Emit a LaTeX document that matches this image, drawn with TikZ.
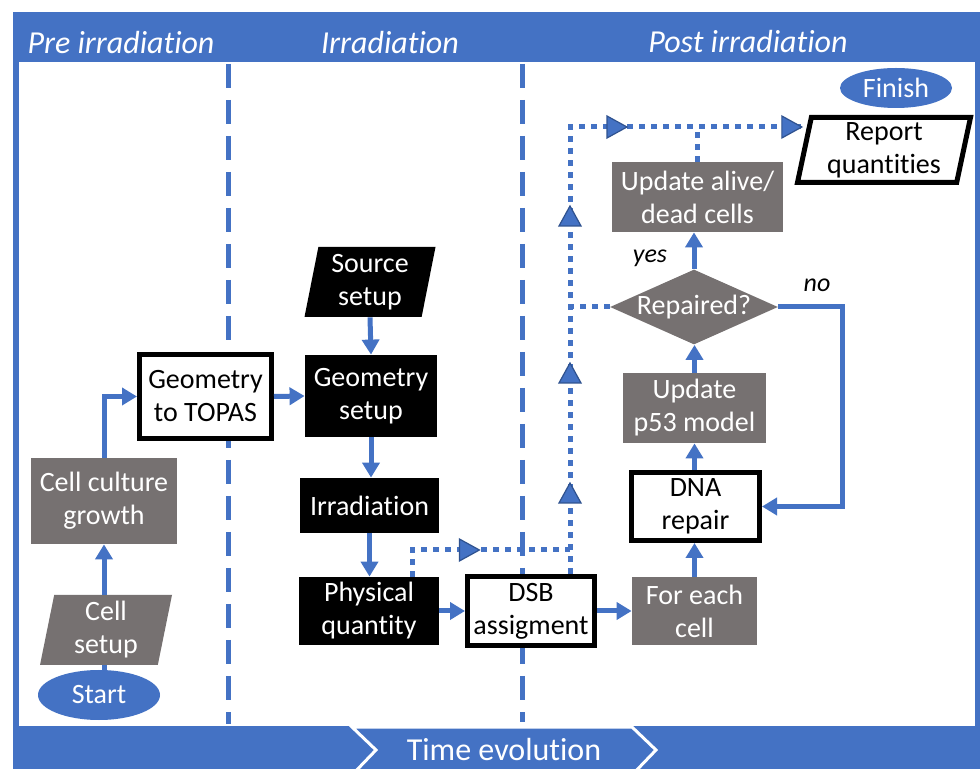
\documentclass[tikz,border=0pt]{standalone}
\usepackage{fontspec}
\setmainfont{Carlito}[Ligatures=NoCommon]
\usetikzlibrary{arrows.meta,shapes.geometric,decorations.markings,calc}
\definecolor{myblue}{HTML}{4472C4}
\definecolor{darkblue}{HTML}{2F528F}
\definecolor{boxgray}{HTML}{767171}
\newcommand{\dtri}{\draw[solid, fill=myblue, draw=darkblue, line width=0.6pt] (0pt,0pt) -- (-10pt,5.5pt) -- (-10pt,-5.5pt) -- cycle;}
\begin{document}
\begin{tikzpicture}[x=0.5pt,y=-0.5pt,
 every node/.style={font=\fontsize{14}{16.5}\selectfont, align=center, inner sep=0pt},
 graybox/.style={rectangle, fill=boxgray, text=white},
 blackbox/.style={rectangle, fill=black, text=white},
 whitebox/.style={rectangle, draw=black, line width=2.5pt, fill=white, text=black},
 para/.style={trapezium, trapezium left angle=76, trapezium right angle=104, trapezium stretches body},
 term/.style={ellipse, fill=myblue, text=white},
 flow/.style={draw=myblue, line width=2.5pt, -{Triangle[length=7.5pt,width=8.5pt]}},
 plainflow/.style={draw=myblue, line width=2.5pt},
 dotline/.style={draw=myblue, line width=2.5pt, dash pattern=on 3pt off 3pt},
 sep/.style={draw=myblue, line width=2.5pt, dash pattern=on 12pt off 6pt},
 header/.style={font=\fontsize{16}{19}\selectfont\itshape, text=white},
 lbl/.style={font=\fontsize{13}{15}\selectfont\itshape, text=black}
]
\useasboundingbox (0,0) rectangle (980,769);
% frame
\fill[myblue] (13,12) rectangle (980,769);
\fill[white] (19,62) rectangle (975,726);
\draw[myblue, fill=myblue, draw=white, line width=1.5pt] (352,727) -- (632,727) -- (656,750) -- (632,775) -- (352,775) -- (376,750) -- cycle;
\node[font=\fontsize{16}{19}\selectfont, text=white] (time) at (504,750) {Time evolution};
\node[header] (h1) at (121,43) {Pre irradiation};
\node[header] (h2) at (390,43) {Irradiation};
\node[header] (h3) at (748,42) {Post irradiation};
% separators
\coordinate (s1t) at (228,64); \coordinate (s1b) at (228,724);
\coordinate (s2t) at (522,64); \coordinate (s2b) at (522,722);
\draw[sep] (s1t) -- (s1b);
\draw[sep] (s2t) -- (s2b);
% nodes
\node[term, minimum width=61pt, minimum height=25pt] (start) at (99,695) {Start};
\node[para, fill=boxgray, text=white, minimum width=66pt, minimum height=35pt] (cellsetup) at (106,630) {Cell\\setup};
\node[graybox, minimum width=73pt, minimum height=43pt] (culture) at (104,501) {Cell culture\\growth};
\node[whitebox, minimum width=66pt, minimum height=42pt] (topas) at (205.5,396.5) {Geometry\\to TOPAS};
\node[para, fill=black, text=white, minimum width=65.5pt, minimum height=35pt] (source) at (370,282) {Source\\setup};
\node[blackbox, minimum width=66pt, minimum height=41pt] (geosetup) at (371,396) {Geometry\\setup};
\node[blackbox, minimum width=69.5pt, minimum height=27.5pt] (irr) at (369.5,505.5) {Irradiation};
\node[blackbox, minimum width=70pt, minimum height=34pt] (phys) at (369,611) {Physical\\quantity};
\node[whitebox, minimum width=63.5pt, minimum height=34.5pt] (dsb) at (531,611) {DSB\\assigment};
\node[graybox, minimum width=62.5pt, minimum height=34pt] (foreach) at (694.5,611) {For each\\cell};
\node[whitebox, minimum width=64pt, minimum height=34pt] (dna) at (695.5,506.5) {DNA\\repair};
\node[graybox, minimum width=71.5pt, minimum height=35pt] (p53) at (694.5,408) {Update\\p53 model};
\node[diamond, aspect=2.24, fill=boxgray, minimum width=84pt, minimum height=37.5pt,
      label={[text=white]center:Repaired?}] (rep) at (694,307) {};
\node[graybox, minimum width=85.5pt, minimum height=35pt] (alive) at (697.5,197) {Update alive/\\dead cells};
\node[para, draw=black, line width=2.5pt, fill=white, minimum width=86.5pt, minimum height=32.5pt] (report) at (884,150) {Report\\quantities};
\node[term, minimum width=56pt, minimum height=20pt] (finish) at (896,88) {Finish};
\node[lbl] (yes) at (650,258) {yes};
\node[lbl] (no) at (817,285) {no};
% solid connectors
\draw[plainflow] (start.north -| culture.south) -- (cellsetup.south -| culture.south);
\draw[flow] (culture.south |- cellsetup.north) -- (culture.south);
\draw[flow] (culture.north) |- (topas.west);
\draw[flow] (topas.east) -- (geosetup.west);
\draw[flow] (source.south) -- (geosetup.north);
\draw[flow] (geosetup.south) -- (irr.north -| geosetup.south);
\draw[flow] (irr.south) -- (phys.north -| irr.south);
\draw[flow] (phys.east) -- (dsb.west);
\draw[flow] (dsb.east) -- (foreach.west);
\draw[flow] (foreach.north) -- (dna.south -| foreach.north);
\draw[flow] (dna.north -| p53.south) -- (p53.south);
\draw[flow] (p53.north) -- (rep.south -| p53.north);
\draw[flow] (rep.north) -- (alive.south -| rep.north);
\coordinate (nx) at (842,0);
\draw[flow] (rep.east) -- (rep.east -| nx) |- (dna.east);
% dotted connectors
\coordinate (px) at (412,0);
\coordinate (dx) at (570,0);
\coordinate (dj) at (570,550);
\coordinate (topy) at (0,127);
\draw[dotline, postaction={decorate}, decoration={markings,
   mark=at position 47pt with {\dtri}}]
   (phys.north -| px) -- (px |- dj) -- (dj);
\draw[dotline] (rep.west) -- (rep.west -| dx);
\draw[dotline] (alive.north) -- (alive.north |- topy);
\draw[dotline, postaction={decorate}, decoration={markings,
   mark=at position 45.5pt with {\dtri},
   mark=at position 105.5pt with {\dtri},
   mark=at position 184pt with {\dtri},
   mark=at position 252pt with {\dtri},
   mark=at position 1 with {\dtri}}]
   (dsb.north -| dx) -- (dx |- topy) -- (report.west |- topy);
\end{tikzpicture}
\end{document}
